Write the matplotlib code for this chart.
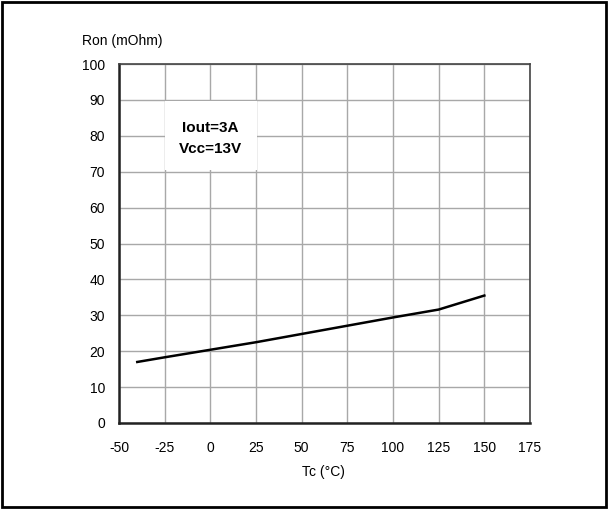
import matplotlib
matplotlib.use("Agg")
import matplotlib.pyplot as plt
from matplotlib.patches import Rectangle

temps = [-40, -25, 0, 25, 50, 75, 100, 125, 150]
ron = [17.0, 18.3, 20.4, 22.5, 24.8, 27.1, 29.4, 31.6, 35.5]
xticks = [-50, -25, 0, 25, 50, 75, 100, 125, 150, 175]
yticks = [0, 10, 20, 30, 40, 50, 60, 70, 80, 90, 100]

plt.rcParams['font.family'] = ['Liberation Sans', 'DejaVu Sans']
fig = plt.figure(figsize=(6.11, 5.09), dpi=100)
W, H = 611, 509
ax = fig.add_axes([119 / W, 1 - 423 / H, (530 - 119) / W, (423 - 64) / H])

ax.set_xlim(-50, 175)
ax.set_ylim(0, 100)
ax.set_xticks(xticks)
ax.set_yticks(yticks)
ax.set_xticklabels([str(v) for v in xticks], fontsize=10)
ax.set_yticklabels([str(v) for v in yticks], fontsize=10)
ax.tick_params(axis='x', length=0, pad=13)
ax.tick_params(axis='y', length=0, pad=10)
ax.grid(True, color='#a8a8a8', linewidth=1.0)
ax.set_axisbelow(True)
for s in ['left', 'bottom']:
    ax.spines[s].set_linewidth(1.8)
    ax.spines[s].set_color('#222222')
for s in ['top', 'right']:
    ax.spines[s].set_linewidth(1.2)
    ax.spines[s].set_color('#444444')

ax.add_patch(Rectangle((-24.6, 70.4), 50.3, 19.3, facecolor='white', edgecolor='none', zorder=1.5))
ax.plot(temps, ron, color='black', linewidth=1.8, zorder=3)

ax.text(0, 82.2, 'Iout=3A', fontsize=11, fontweight='bold', ha='center', va='center', zorder=4)
ax.text(0, 76.3, 'Vcc=13V', fontsize=11, fontweight='bold', ha='center', va='center', zorder=4)

fig.text(82 / W, 1 - 41 / H, 'Ron (mOhm)', fontsize=10, ha='left', va='center')
fig.text(323 / W, 1 - 472 / H, 'Tc (°C)', fontsize=10, ha='center', va='center')

fig.add_artist(Rectangle((2 / W, 2 / H), (606 - 2) / W, (507 - 2) / H, transform=fig.transFigure,
                         facecolor='none', edgecolor='black', linewidth=2.0))

fig.savefig('out.png', dpi=100)
